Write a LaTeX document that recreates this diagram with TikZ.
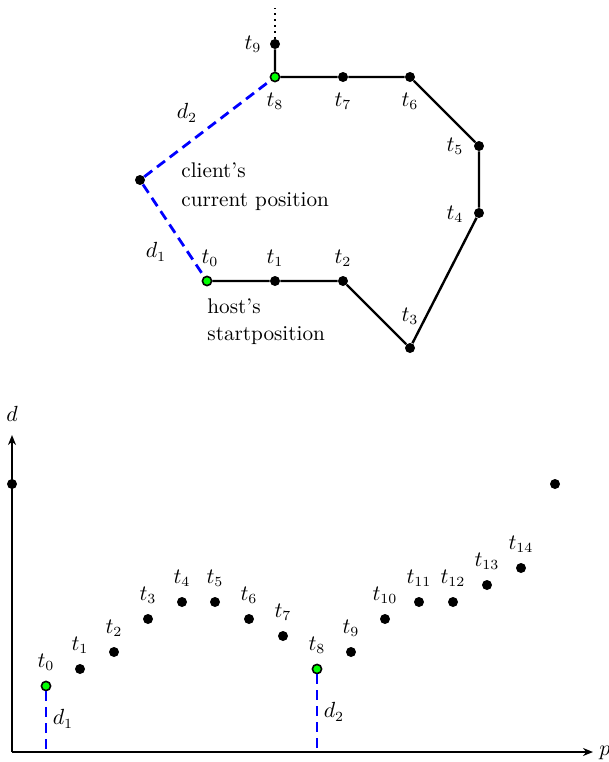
\documentclass[tikz,border=0pt]{standalone}
\usetikzlibrary{arrows.meta}
\begin{document}
\begin{tikzpicture}[x=0.5pt,y=-0.5pt,
  every node/.style={font=\fontsize{10.6}{12.7}\selectfont},
  dot/.style={circle,fill=black,inner sep=0pt,minimum size=5pt},
  gdot/.style={circle,fill=green,draw=black,line width=0.8pt,inner sep=0pt,minimum size=4.6pt},
  lbl/.style={inner sep=0pt},
  path/.style={line width=1.2pt},
  dist/.style={blue,line width=1.4pt,dash pattern=on 5pt off 3pt},
  axis/.style={line width=1.4pt,-{Stealth[length=5pt,width=4pt]}}]
\useasboundingbox (0,0) rectangle (609,762);
% ---------- top: route ----------
\coordinate (top) at (275,8);
\node[dot] (a9) at (275,44) {};
\node[gdot] (a8) at (275,77) {};
\node[dot] (a7) at (343,77) {};
\node[dot] (a6) at (410,77) {};
\node[dot] (a5) at (479,146) {};
\node[dot] (a4) at (479,213) {};
\node[dot] (a3) at (410,348) {};
\node[dot] (a2) at (343,281) {};
\node[dot] (a1) at (275,281) {};
\node[gdot] (a0) at (207,281) {};
\node[dot] (cl) at (140,180) {};
\draw[path] (a0) -- (a1) -- (a2) -- (a3) -- (a4) -- (a5) -- (a6) -- (a7) -- (a8) -- (a9);
\draw[line width=1pt,dotted] (a9) -- (top);
\draw[dist] (cl) -- (a8);
\draw[dist] (cl) -- (a0);
\node[lbl] (la9) at (253,44) {$t_9$};
\node[lbl] (la8) at (275,101) {$t_8$};
\node[lbl] (la7) at (343,101) {$t_7$};
\node[lbl] (la6) at (410,101) {$t_6$};
\node[lbl] (la5) at (455,146) {$t_5$};
\node[lbl] (la4) at (455,214) {$t_4$};
\node[lbl] (la3) at (410,316) {$t_3$};
\node[lbl] (la2) at (343,258) {$t_2$};
\node[lbl] (la1) at (275,258) {$t_1$};
\node[lbl] (la0) at (210,258) {$t_0$};
\node[lbl] (ld2) at (187,113) {$d_2$};
\node[lbl] (ld1) at (156,252) {$d_1$};
\node[lbl,anchor=west] (c1) at (181,170) {client's};
\node[lbl,anchor=west] (c2) at (181,202) {current position};
\node[lbl,anchor=west] (h1) at (207,306) {host's};
\node[lbl,anchor=west] (h2) at (207,336) {startposition};
% ---------- bottom: plot ----------
\coordinate (O) at (12,752);
\coordinate (Y) at (12,435);
\coordinate (X) at (593,752);
\draw[axis] (O) -- (Y);
\draw[axis] (O) -- (X);
\node[lbl] (ly) at (12,414) {$d$};
\node[lbl,anchor=west] (lx) at (599,753) {$p$};
\node[dot] (yp) at (12,484) {};
\node[dot] (far) at (555,484) {};
\foreach \i/\x/\y in {1/80/669,2/114/652,3/148/619,4/182/602,5/215/602,6/249/619,7/283/636,9/351/652,10/385/619,11/419/602,12/453/602,13/487/585,14/521/568}{
  \node[dot] (b\i) at (\x,\y) {};
  \node[lbl] (lb\i) at (\x,\y-24) {$t_{\i}$};
}
\node[gdot] (b0) at (46,686) {};
\node[lbl] (lb0) at (46,662) {$t_0$};
\node[gdot] (b8) at (317,669) {};
\node[lbl] (lb8) at (317,645) {$t_8$};
\coordinate (f0) at (46,752);
\coordinate (f8) at (317,752);
\draw[dist] (b0) -- (f0);
\draw[dist] (b8) -- (f8);
\node[lbl] (lbd1) at (63,719) {$d_1$};
\node[lbl] (lbd2) at (334,712) {$d_2$};
\end{tikzpicture}
\end{document}
